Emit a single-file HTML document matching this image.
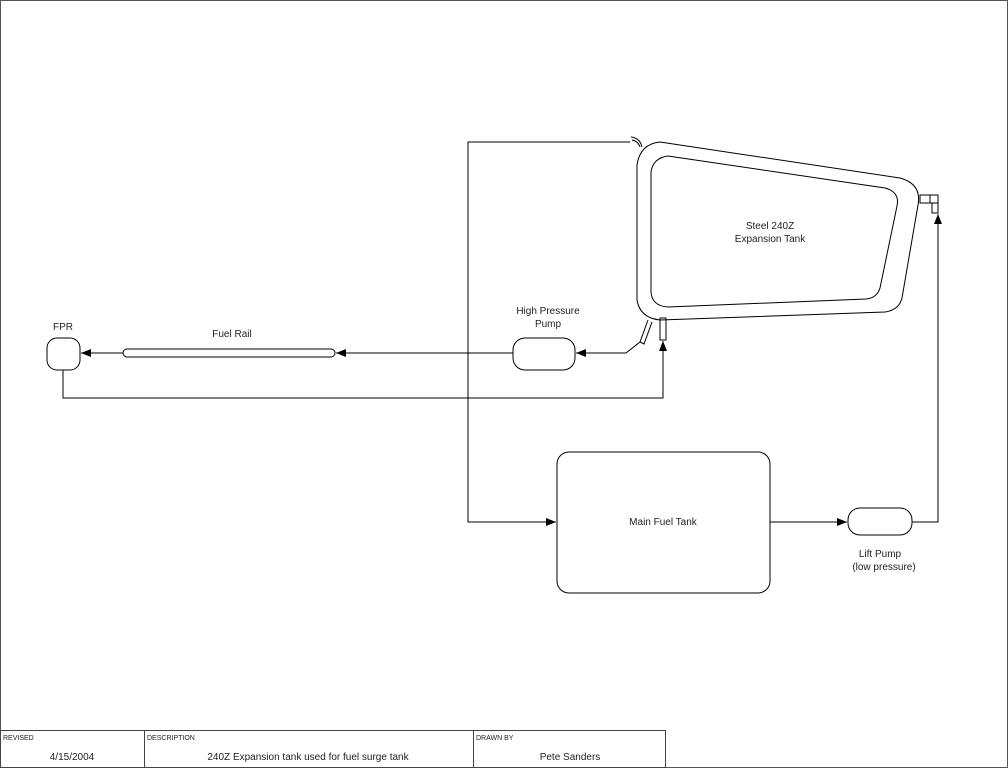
<!DOCTYPE html>
<html><head><style>body{margin:0;background:#fff}svg{display:block}text{font-family:"Liberation Sans",sans-serif;fill:#222}</style></head><body>
<svg width="1008" height="768" xmlns="http://www.w3.org/2000/svg">
<defs><marker id="a" markerWidth="10" markerHeight="8" refX="10" refY="4" orient="auto" markerUnits="userSpaceOnUse"><path d="M0,0 L10,4 L0,8z" fill="#000"/></marker></defs>
<rect x="0.5" y="0.5" width="1007" height="767" fill="none" stroke="#555"/>
<g fill="none" stroke="#000" stroke-width="1">
<!-- tank outer -->
<path d="M660,142 L900,178 Q922,184 918,205 L902,298 Q899,310 885,312 L660,320 Q640,318 637,300 L637,165 Q640,144 660,142Z"/>
<path d="M668,156 L885,188 Q900,192 897,206 L880,288 Q877,298 866,299 L668,307 Q652,306 651,292 L651,172 Q653,158 668,156Z"/>
<path d="M631,137 Q640,138 642,147"/><path d="M632,140 Q638,141 640,147"/>
<path d="M648,320 L640,342 L644,344 L652,322"/>
<rect x="660" y="318" width="6" height="22"/>
<rect x="920" y="195" width="10" height="8"/><rect x="930" y="195" width="8" height="8"/><rect x="932" y="203" width="6" height="10"/>
<!-- pipes -->
<polyline points="630,142 468,142 468,522 556,522" marker-end="url(#a)"/>
<line x1="770" y1="522" x2="847" y2="522" marker-end="url(#a)"/>
<polyline points="912,522 938,522 938,214" marker-end="url(#a)"/>
<polyline points="640,342 626,353 576,353" marker-end="url(#a)"/>
<line x1="513" y1="353" x2="336" y2="353" marker-end="url(#a)"/>
<line x1="123" y1="353" x2="81" y2="353" marker-end="url(#a)"/>
<polyline points="63,370 63,398 663,398 663,341" marker-end="url(#a)"/>
<!-- shapes -->
<rect x="557" y="452" width="213" height="141" rx="12"/>
<rect x="848" y="508" width="64" height="27" rx="12"/>
<rect x="513" y="338" width="62" height="32" rx="12"/>
<rect x="123" y="349" width="212" height="8" rx="4"/>
<rect x="47" y="338" width="33" height="32" rx="10"/>
<!-- title block -->
<rect x="0.5" y="730.5" width="665" height="37" stroke="#444"/>
<line x1="144.5" y1="730" x2="144.5" y2="768" stroke="#444"/>
<line x1="473.5" y1="730" x2="473.5" y2="768" stroke="#444"/>
</g>
<g font-size="10" text-anchor="middle">
<text x="770" y="229">Steel 240Z</text><text x="770" y="242">Expansion Tank</text>
<text x="663" y="525">Main Fuel Tank</text>
<text x="880" y="557">Lift Pump</text><text x="884" y="570">(low pressure)</text>
<text x="548" y="314">High Pressure</text><text x="548" y="327">Pump</text>
<text x="232" y="337">Fuel Rail</text>
<text x="63" y="330">FPR</text>
<text x="72" y="760">4/15/2004</text>
<text x="308" y="760">240Z Expansion tank used for fuel surge tank</text>
<text x="570" y="760">Pete Sanders</text>
</g>
<g font-size="7"><text x="3" y="740">REVISED</text><text x="147" y="740">DESCRIPTION</text><text x="476" y="740">DRAWN BY</text></g>
</svg>
</body></html>
